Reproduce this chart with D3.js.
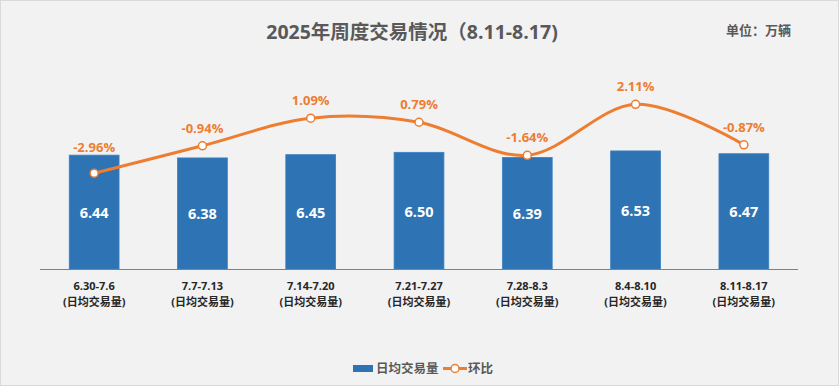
<!DOCTYPE html>
<html>
<head>
<meta charset="utf-8">
<script src="https://cdn.jsdelivr.net/npm/d3@7"></script>
<style>
  html, body { margin: 0; padding: 0; background: #fff; }
  svg { display: block; font-family: "Open Sans", "Noto Sans CJK SC", sans-serif; }
</style>
</head>
<body>
<svg id="chart" width="839" height="386"></svg>
<script>
const weeks = ["6.30-7.6", "7.7-7.13", "7.14-7.20", "7.21-7.27", "7.28-8.3", "8.4-8.10", "8.11-8.17"];
const dailyVolume = [6.44, 6.38, 6.45, 6.50, 6.39, 6.53, 6.47];
const weekChange = [-2.96, -0.94, 1.09, 0.79, -1.64, 2.11, -0.87];

const svg = d3.select("#chart"),
      W = +svg.attr("width"), H = +svg.attr("height");

// background + frame
svg.append("rect").attr("x", 0.5).attr("y", 0.5).attr("width", W - 1).attr("height", H - 1)
  .attr("fill", "#f2f2f2").attr("stroke", "#d9d9d9");

const baseY = 269;

const x = d3.scaleBand().domain(weeks).range([40, 798]).paddingInner(0.54).paddingOuter(0.27);

// primary axis (bars) starts at 4
const y = d3.scaleLinear().domain([4, 7]).range([baseY, baseY - 140]);
// secondary axis (line)
const y2 = d3.scaleLinear().domain([-10, 3]).range([baseY, baseY - 13 * 13.6]);

const cx = d => x(d) + x.bandwidth() / 2;

// bars
const bars = svg.append("g");
bars.selectAll("rect")
  .data(weeks)
  .join("rect")
  .attr("x", d => x(d))
  .attr("y", (d, i) => y(dailyVolume[i]))
  .attr("width", x.bandwidth())
  .attr("height", (d, i) => baseY - y(dailyVolume[i]))
  .attr("fill", "#2e74b5")
  .attr("stroke", "#3a80c0")
  .attr("stroke-width", 0.8);

bars.selectAll("text")
  .data(weeks)
  .join("text")
  .attr("x", d => cx(d))
  .attr("y", (d, i) => (y(dailyVolume[i]) + baseY) / 2 + 6)
  .attr("text-anchor", "middle")
  .attr("font-size", "14.5px")
  .attr("font-weight", "bold")
  .attr("fill", "#fff")
  .text((d, i) => dailyVolume[i].toFixed(2));

// x axis line
svg.append("line")
  .attr("x1", 40).attr("x2", 798)
  .attr("y1", baseY + 0.5).attr("y2", baseY + 0.5)
  .attr("stroke", "#808080").attr("stroke-width", 1.2);

// category labels
const cat = svg.append("g")
  .attr("font-size", "11px").attr("font-weight", "bold").attr("fill", "#262626")
  .attr("text-anchor", "middle");
cat.selectAll(".w")
  .data(weeks).join("text").attr("class", "w")
  .attr("x", d => cx(d)).attr("y", 290)
  .text(d => d);
cat.selectAll(".s")
  .data(weeks).join("text").attr("class", "s")
  .attr("x", d => cx(d)).attr("y", 306)
  .text("(日均交易量)");

// line
const pts = weeks.map((d, i) => [cx(d), y2(weekChange[i])]);
svg.append("path")
  .attr("d", d3.line().curve(d3.curveCardinal.tension(0))(pts))
  .attr("fill", "none")
  .attr("stroke", "#ed7d31")
  .attr("stroke-width", 3)
  .attr("stroke-linecap", "round");

svg.append("g").selectAll("circle")
  .data(pts).join("circle")
  .attr("cx", d => d[0]).attr("cy", d => d[1]).attr("r", 4)
  .attr("fill", "#fff").attr("stroke", "#ed7d31").attr("stroke-width", 1.5);

svg.append("g").selectAll("text")
  .data(weeks).join("text")
  .attr("x", d => cx(d))
  .attr("y", (d, i) => Math.min(y2(weekChange[i]) - 18, y(dailyVolume[i]) - 8) + 5)
  .attr("text-anchor", "middle")
  .attr("font-size", "13px")
  .attr("font-weight", "bold")
  .attr("fill", "#ed7d31")
  .text((d, i) => weekChange[i].toFixed(2) + "%");

// title
svg.append("text")
  .attr("x", 412).attr("y", 39)
  .attr("text-anchor", "middle")
  .attr("font-size", "19.5px").attr("font-weight", "bold").attr("fill", "#595959")
  .text("2025年周度交易情况（8.11-8.17)");

svg.append("text")
  .attr("x", 791).attr("y", 35)
  .attr("text-anchor", "end")
  .attr("font-size", "13px").attr("font-weight", "bold").attr("fill", "#595959")
  .text("单位：万辆");

// legend
const lg = svg.append("g").attr("font-size", "12.5px").attr("font-weight", "bold").attr("fill", "#595959");
lg.append("rect").attr("x", 353).attr("y", 365).attr("width", 20).attr("height", 7).attr("fill", "#2e74b5");
lg.append("text").attr("x", 376).attr("y", 373).text("日均交易量");
lg.append("line").attr("x1", 443).attr("x2", 467).attr("y1", 368.5).attr("y2", 368.5)
  .attr("stroke", "#ed7d31").attr("stroke-width", 3);
lg.append("circle").attr("cx", 455).attr("cy", 368.5).attr("r", 4)
  .attr("fill", "#fff").attr("stroke", "#ed7d31").attr("stroke-width", 1.5);
lg.append("text").attr("x", 468).attr("y", 373).text("环比");
</script>
</body>
</html>
